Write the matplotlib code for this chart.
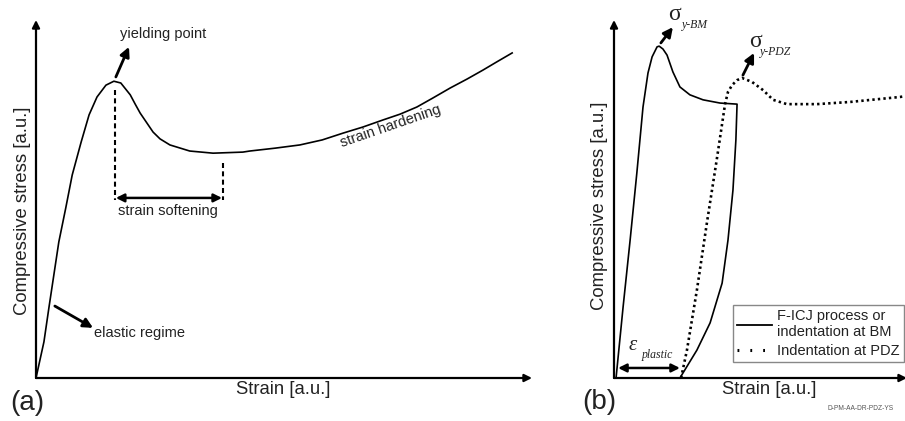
import matplotlib
matplotlib.use("Agg")
import matplotlib.pyplot as plt
from matplotlib.lines import Line2D

plt.rcParams['font.family'] = ['Liberation Sans', 'DejaVu Sans']

# (a) generic compression curve, arbitrary units
strain_a = [0.0, 0.16, 0.26, 0.36, 0.46, 0.60, 0.73, 0.91, 1.07, 1.23, 1.41, 1.57,
            1.71, 1.90, 2.00, 2.10, 2.36, 2.50, 2.70, 3.10, 3.57, 4.17, 4.31, 4.82,
            5.32, 5.77, 6.19, 6.59, 7.00, 7.34, 7.68, 8.00, 8.35, 8.69, 9.01, 9.29, 9.60]
stress_a = [0.0, 1.01, 1.96, 2.88, 3.80, 4.75, 5.67, 6.59, 7.35, 7.85, 8.18, 8.29,
            8.24, 7.91, 7.65, 7.40, 6.87, 6.68, 6.51, 6.34, 6.28, 6.31, 6.34, 6.42,
            6.51, 6.65, 6.84, 7.01, 7.21, 7.37, 7.57, 7.82, 8.10, 8.35, 8.60, 8.83, 9.08]
yield_a = (1.59, 8.27)
soft_end_x = 3.77

# (b) base metal loading + unloading (solid)
strain_bm = [0.07, 0.31, 0.55, 0.78, 0.99, 1.16, 1.30, 1.47, 1.54, 1.67, 1.81, 2.01,
             2.25, 2.59, 3.04, 3.62, 4.20, 4.16, 4.06, 3.89, 3.69, 3.28, 2.83, 2.25]
stress_bm = [0.0, 1.98, 3.85, 5.73, 7.57, 8.52, 8.97, 9.25, 9.27, 9.19, 9.02, 8.55,
             8.13, 7.91, 7.77, 7.68, 7.65, 6.65, 5.25, 3.85, 2.65, 1.54, 0.78, 0.0]
# (b) indentation at PDZ (dotted)
strain_pdz = [2.29, 2.49, 2.83, 3.17, 3.52, 3.79, 3.89, 4.03, 4.20, 4.37, 4.71, 5.09,
              5.43, 5.90, 6.93, 8.05, 9.76, 10.0]
stress_pdz = [0.0, 0.78, 2.46, 4.33, 6.17, 7.65, 7.99, 8.18, 8.32, 8.38, 8.27, 8.04,
              7.77, 7.65, 7.65, 7.71, 7.85, 7.88]
eps_plastic = (0.14, 2.25)

W, H = 905, 421
fig = plt.figure(figsize=(W / 100, H / 100), dpi=100)
txt = '#222222'

def axis_arrows(ax):
    ax.set_xlim(0, 10)
    ax.set_ylim(0, 10)
    ax.set_axis_off()
    ap = dict(arrowstyle='-|>', lw=1.6, color='k', shrinkA=0, shrinkB=0, mutation_scale=11)
    ax.annotate('', xy=(1, 0), xytext=(0, 0), xycoords='axes fraction', arrowprops=ap, annotation_clip=False)
    ax.annotate('', xy=(0, 1), xytext=(0, 0), xycoords='axes fraction', arrowprops=ap, annotation_clip=False)

def arrow(ax, p0, p1, style='-|>', lw=2.0, ms=14):
    ax.annotate('', xy=p1, xytext=p0,
                arrowprops=dict(arrowstyle=style, lw=lw, color='k', shrinkA=0, shrinkB=0, mutation_scale=ms),
                annotation_clip=False)

# ---------------- (a) ----------------
axa = fig.add_axes([36 / W, (H - 378) / H, (532 - 36) / W, 358 / H])
axis_arrows(axa)
axa.plot(strain_a, stress_a, color='k', lw=1.2, clip_on=False, solid_joinstyle='round')

dash = (0, (2.4, 1.6))
axa.plot([yield_a[0], yield_a[0]], [8.04, 4.97], color='k', lw=1.5, linestyle=dash)
axa.plot([soft_end_x, soft_end_x], [6.01, 4.97], color='k', lw=1.5, linestyle=dash)
arrow(axa, (1.61, 5.03), (3.75, 5.03), style='<|-|>', lw=1.8, ms=12)
axa.text(2.66, 4.66, 'strain softening', ha='center', va='center', fontsize=10.5, color=txt)

arrow(axa, (1.61, 8.41), (1.875, 9.25))
axa.text(1.69, 9.61, 'yielding point', ha='left', va='center', fontsize=10.5, color=txt)

arrow(axa, (0.38, 2.01), (1.15, 1.40))
axa.text(1.17, 1.26, 'elastic regime', ha='left', va='center', fontsize=10.5, color=txt)

axa.text(7.14, 7.02, 'strain hardening', ha='center', va='center', fontsize=10.5,
         color=txt, rotation=19)

fig.text(22.5 / W, (H - 211) / H, 'Compressive stress [a.u.]', rotation=90,
         ha='center', va='center', fontsize=13.3, color=txt)
fig.text(283 / W, (H - 389) / H, 'Strain [a.u.]', ha='center', va='center', fontsize=13.3, color=txt)
fig.text(10 / W, (H - 403) / H, '(a)', ha='left', va='center', fontsize=20, color=txt)

# ---------------- (b) ----------------
axb = fig.add_axes([614 / W, (H - 378) / H, (907 - 614) / W, 358 / H])
axis_arrows(axb)
axb.plot(strain_bm, stress_bm, color='k', lw=1.2, clip_on=False, solid_joinstyle='round')
axb.plot(strain_pdz, stress_pdz, color='k', lw=1.9, linestyle=(0, (0.9, 1.2)), clip_on=False)

arrow(axb, (1.60, 9.36), (2.01, 9.80))
axb.text(1.84, 10.14, '\u03c3', family='Liberation Serif', fontsize=17, ha='left', va='center', color=txt)
axb.text(2.32, 9.86, 'y-BM', family='Liberation Serif', style='italic', fontsize=8.5,
         ha='left', va='center', color=txt)

arrow(axb, (4.40, 8.46), (4.78, 9.08))
axb.text(4.61, 9.39, '\u03c3', family='Liberation Serif', fontsize=17, ha='left', va='center', color=txt)
axb.text(4.98, 9.11, 'y-PDZ', family='Liberation Serif', style='italic', fontsize=8.5,
         ha='left', va='center', color=txt)

arrow(axb, (eps_plastic[0], 0.28), (eps_plastic[1], 0.28), style='<|-|>', lw=1.8, ms=12)
axb.text(0.48, 0.92, '\u03b5', family='Liberation Serif', style='italic', fontsize=15,
         ha='left', va='center', color=txt)
axb.text(0.96, 0.64, 'plastic', family='Liberation Serif', style='italic', fontsize=8.5,
         ha='left', va='center', color=txt)

handles = [Line2D([], [], color='k', lw=1.3),
           Line2D([], [], color='k', lw=2.2, linestyle=(0, (0.6, 3.6)))]
leg = fig.legend(handles, ['F-ICJ process or\nindentation at BM', 'Indentation at PDZ'],
                 loc='lower right', bbox_to_anchor=(904 / W, (H - 362) / H),
                 bbox_transform=fig.transFigure, borderaxespad=0, fontsize=10.5,
                 handlelength=2.4, handletextpad=0.35, labelspacing=0.3, borderpad=0.3,
                 fancybox=False, framealpha=1, edgecolor='#888888')
for t in leg.get_texts():
    t.set_color(txt)

fig.text(600 / W, (H - 206) / H, 'Compressive stress [a.u.]', rotation=90,
         ha='center', va='center', fontsize=13.3, color=txt)
fig.text(769 / W, (H - 389) / H, 'Strain [a.u.]', ha='center', va='center', fontsize=13.3, color=txt)
fig.text(582 / W, (H - 402) / H, '(b)', ha='left', va='center', fontsize=20, color=txt)
fig.text(827 / W, (H - 408) / H, 'D-PM-AA-DR-PDZ-YS', ha='left', va='center', fontsize=4.8, color='#555555')

fig.savefig('out.png', dpi=100)
